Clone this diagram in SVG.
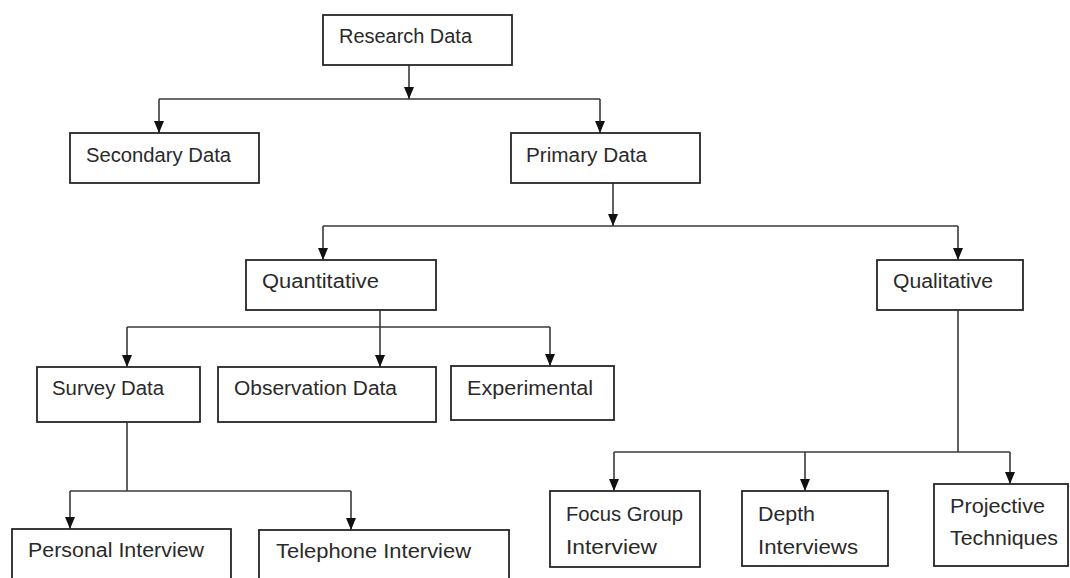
<svg xmlns="http://www.w3.org/2000/svg" width="1070" height="578" viewBox="0 0 1070 578">
  <style>
    .box { fill: #ffffff; stroke: #262626; stroke-width: 1.8; }
    .lbl { font-family: "Liberation Sans", Arial, sans-serif; font-size: 20px; fill: #2a2a2a; }
    .con { fill: none; stroke: #3a3a3a; stroke-width: 1.6; }
  </style>
  <defs>
    <marker id="ah" viewBox="0 0 12 10" refX="12" refY="5" markerWidth="12" markerHeight="10" markerUnits="userSpaceOnUse" orient="auto">
      <path d="M0,0 L12,5 L0,10 z" fill="#111111"/>
    </marker>
  </defs>
  <rect width="1070" height="578" fill="#ffffff"/>

  <g id="connectors">
    <!-- Research Data -> Secondary / Primary -->
    <line class="con" x1="409" y1="65" x2="409" y2="99" marker-end="url(#ah)"/>
    <polyline class="con" points="159,99 600,99"/>
    <line class="con" x1="159" y1="99" x2="159" y2="133" marker-end="url(#ah)"/>
    <line class="con" x1="600" y1="99" x2="600" y2="133" marker-end="url(#ah)"/>
    <!-- Primary Data -> Quantitative / Qualitative -->
    <line class="con" x1="613" y1="183" x2="613" y2="226" marker-end="url(#ah)"/>
    <polyline class="con" points="323,226 958,226"/>
    <line class="con" x1="323" y1="226" x2="323" y2="260" marker-end="url(#ah)"/>
    <line class="con" x1="958" y1="226" x2="958" y2="260" marker-end="url(#ah)"/>
    <!-- Quantitative -> Survey / Observation / Experimental -->
    <line class="con" x1="380" y1="310" x2="380" y2="367" marker-end="url(#ah)"/>
    <polyline class="con" points="127,327 550,327"/>
    <line class="con" x1="127" y1="327" x2="127" y2="367" marker-end="url(#ah)"/>
    <line class="con" x1="550" y1="327" x2="550" y2="366" marker-end="url(#ah)"/>
    <!-- Survey Data -> Personal / Telephone -->
    <line class="con" x1="127" y1="422" x2="127" y2="491"/>
    <polyline class="con" points="70,491 351,491"/>
    <line class="con" x1="70" y1="491" x2="70" y2="529" marker-end="url(#ah)"/>
    <line class="con" x1="351" y1="491" x2="351" y2="530" marker-end="url(#ah)"/>
    <!-- Qualitative -> Focus / Depth / Projective -->
    <line class="con" x1="958" y1="310" x2="958" y2="452"/>
    <polyline class="con" points="614,452 1010,452"/>
    <line class="con" x1="614" y1="452" x2="614" y2="491" marker-end="url(#ah)"/>
    <line class="con" x1="805" y1="452" x2="805" y2="491" marker-end="url(#ah)"/>
    <line class="con" x1="1010" y1="452" x2="1010" y2="484" marker-end="url(#ah)"/>
  </g>

  <g id="research-data">
    <rect class="box" x="323" y="15" width="189" height="50"/>
    <text class="lbl" x="339" y="43" textLength="133" lengthAdjust="spacingAndGlyphs">Research Data</text>
  </g>
  <g id="secondary-data">
    <rect class="box" x="70" y="133" width="189" height="50"/>
    <text class="lbl" x="86" y="162" textLength="145" lengthAdjust="spacingAndGlyphs">Secondary Data</text>
  </g>
  <g id="primary-data">
    <rect class="box" x="511" y="133" width="189" height="50"/>
    <text class="lbl" x="526" y="162" textLength="121" lengthAdjust="spacingAndGlyphs">Primary Data</text>
  </g>
  <g id="quantitative">
    <rect class="box" x="246" y="260" width="190" height="50"/>
    <text class="lbl" x="262" y="288" textLength="117" lengthAdjust="spacingAndGlyphs">Quantitative</text>
  </g>
  <g id="qualitative">
    <rect class="box" x="877" y="260" width="146" height="50"/>
    <text class="lbl" x="893" y="288" textLength="100" lengthAdjust="spacingAndGlyphs">Qualitative</text>
  </g>
  <g id="survey-data">
    <rect class="box" x="37" y="367" width="163" height="55"/>
    <text class="lbl" x="52" y="395" textLength="112" lengthAdjust="spacingAndGlyphs">Survey Data</text>
  </g>
  <g id="observation-data">
    <rect class="box" x="218" y="367" width="218" height="55"/>
    <text class="lbl" x="234" y="395" textLength="163" lengthAdjust="spacingAndGlyphs">Observation Data</text>
  </g>
  <g id="experimental">
    <rect class="box" x="451" y="366" width="163" height="54"/>
    <text class="lbl" x="467" y="395" textLength="126" lengthAdjust="spacingAndGlyphs">Experimental</text>
  </g>
  <g id="personal-interview">
    <rect class="box" x="12" y="529" width="219" height="70"/>
    <text class="lbl" x="28" y="557" textLength="176" lengthAdjust="spacingAndGlyphs">Personal Interview</text>
  </g>
  <g id="telephone-interview">
    <rect class="box" x="259" y="530" width="250" height="70"/>
    <text class="lbl" x="276" y="558" textLength="195" lengthAdjust="spacingAndGlyphs">Telephone Interview</text>
  </g>
  <g id="focus-group-interview">
    <rect class="box" x="550" y="491" width="150" height="76"/>
    <text class="lbl" x="566" y="521" textLength="117" lengthAdjust="spacingAndGlyphs">Focus Group</text>
    <text class="lbl" x="566" y="554" textLength="91" lengthAdjust="spacingAndGlyphs">Interview</text>
  </g>
  <g id="depth-interviews">
    <rect class="box" x="742" y="491" width="146" height="75"/>
    <text class="lbl" x="758" y="521" textLength="57" lengthAdjust="spacingAndGlyphs">Depth</text>
    <text class="lbl" x="758" y="554" textLength="100" lengthAdjust="spacingAndGlyphs">Interviews</text>
  </g>
  <g id="projective-techniques">
    <rect class="box" x="934" y="484" width="134" height="82"/>
    <text class="lbl" x="950" y="513" textLength="95" lengthAdjust="spacingAndGlyphs">Projective</text>
    <text class="lbl" x="950" y="545" textLength="108" lengthAdjust="spacingAndGlyphs">Techniques</text>
  </g>
</svg>
